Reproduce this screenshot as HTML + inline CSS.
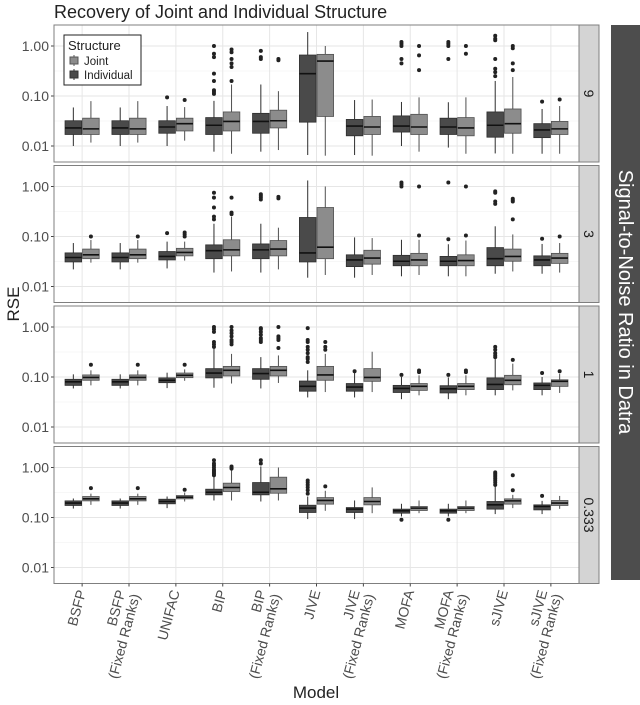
<!DOCTYPE html>
<html><head><meta charset="utf-8"><style>
html,body{margin:0;padding:0;background:#fff;}
svg{display:block;font-family:"Liberation Sans",sans-serif;}
</style></head><body>
<svg id="chart" width="640" height="705" viewBox="0 0 640 705" xmlns="http://www.w3.org/2000/svg">
<text x="54" y="18" font-size="18" fill="#222">Recovery of Joint and Individual Structure</text>
<rect x="611" y="25" width="29" height="555" fill="#4d4d4d"/>
<text transform="translate(619,302) rotate(90)" text-anchor="middle" font-size="20" fill="#fff">Signal-to-Noise Ratio in Datra</text>
<text transform="translate(19,304) rotate(-90)" text-anchor="middle" font-size="17" fill="#222">RSE</text>
<text x="316" y="698" text-anchor="middle" font-size="17" fill="#222">Model</text>
<g id="panels"></g>
<g>
<rect x="64" y="35" width="77" height="50" fill="#fff" stroke="#222" stroke-width="1"/>
<text x="68" y="50" font-size="13" fill="#222">Structure</text>
<g><line x1="74" y1="55" x2="74" y2="66" stroke="#555"/><rect x="70" y="57" width="8" height="7" fill="#8c8c8c" stroke="#555"/></g>
<text x="84" y="65" font-size="11.5" fill="#222">Joint</text>
<g><line x1="74" y1="69" x2="74" y2="80" stroke="#333"/><rect x="70" y="71" width="8" height="7" fill="#4a4a4a" stroke="#333"/></g>
<text x="84" y="79" font-size="11.5" fill="#222">Individual</text>
</g>
</svg>
<script>
const categories = ["BSFP","BSFP|(Fixed Ranks)","UNIFAC","BIP","BIP|(Fixed Ranks)","JIVE","JIVE|(Fixed Ranks)","MOFA","MOFA|(Fixed Ranks)","sJIVE","sJIVE|(Fixed Ranks)"];
const snrLevels = ["9","3","1","0.333"];
const yTicks = [0.01, 0.1, 1];
const yTickLabels = ["0.01","0.10","1.00"];
// [low whisker, q1, median, q3, high whisker]
const p9Dark = [[0.010,0.017,0.023,0.032,0.059],[0.010,0.017,0.023,0.032,0.059],[0.010,0.018,0.024,0.032,0.063],[0.0077,0.017,0.026,0.037,0.08],[0.0077,0.018,0.031,0.045,0.17],[0.0066,0.03,0.28,0.66,1.9],[0.0066,0.016,0.025,0.034,0.083],[0.010,0.019,0.025,0.040,0.076],[0.0093,0.017,0.024,0.036,0.075],[0.0071,0.015,0.026,0.048,0.2],[0.007,0.0147,0.021,0.028,0.055]];
const p9Light = [[0.0117,0.017,0.022,0.036,0.079],[0.0117,0.017,0.022,0.036,0.079],[0.0128,0.020,0.028,0.036,0.06],[0.007,0.020,0.031,0.048,0.17],[0.0083,0.023,0.032,0.052,0.125],[0.0064,0.039,0.5,0.68,1.0],[0.0064,0.017,0.024,0.039,0.085],[0.0077,0.017,0.024,0.043,0.094],[0.007,0.016,0.023,0.037,0.094],[0.007,0.018,0.028,0.055,0.24],[0.007,0.017,0.022,0.031,0.063]];
const p9DarkOut = [[],[],[0.094],[0.11,0.12,0.13,0.2,0.28,0.6,0.7,1.0],[0.55,0.6,0.8],[],[],[0.45,0.55,1.0,1.1,1.2],[0.55,1.0,1.1,1.2],[0.25,0.3,0.35,0.55,1.3,1.4,1.6],[0.077]];
const p9LightOut = [[],[],[0.083],[0.2,0.38,0.45,0.55,0.75,0.85],[0.52,0.55],[],[],[0.33,0.65,1.0],[0.7,1.0],[0.33,0.45,0.9,1.0],[0.085]];
const p3Dark = [[0.022,0.031,0.038,0.047,0.074],[0.022,0.031,0.038,0.047,0.074],[0.023,0.034,0.040,0.050,0.079],[0.019,0.036,0.052,0.068,0.18],[0.019,0.036,0.054,0.071,0.18],[0.015,0.031,0.047,0.24,1.32],[0.015,0.025,0.034,0.043,0.096],[0.016,0.026,0.032,0.042,0.086],[0.016,0.026,0.032,0.040,0.07],[0.018,0.026,0.036,0.06,0.16],[0.018,0.026,0.034,0.041,0.071]];
const p3Light = [[0.030,0.036,0.043,0.056,0.085],[0.030,0.036,0.043,0.056,0.085],[0.033,0.041,0.048,0.058,0.079],[0.020,0.041,0.054,0.086,0.25],[0.022,0.041,0.056,0.083,0.15],[0.017,0.036,0.061,0.38,1.0],[0.017,0.028,0.037,0.053,0.093],[0.017,0.026,0.034,0.046,0.086],[0.016,0.026,0.033,0.043,0.083],[0.020,0.032,0.040,0.056,0.11],[0.019,0.029,0.037,0.046,0.074]];
const p3DarkOut = [[],[],[0.117],[0.22,0.25,0.38,0.6,0.75],[0.55,0.6,0.65,0.7],[],[],[1.0,1.1,1.2],[0.088,1.2],[0.45,0.5,0.75,0.8],[0.09]];
const p3LightOut = [[0.1],[0.1],[0.1,0.11,0.12],[0.28,0.3,0.6],[0.58,0.62],[],[],[0.105,1.0],[0.105,1.0],[0.22,0.5,0.53,0.57],[0.1]];
const p1Dark = [[0.059,0.068,0.08,0.09,0.113],[0.059,0.068,0.08,0.09,0.113],[0.06,0.077,0.086,0.096,0.122],[0.061,0.096,0.12,0.147,0.37],[0.059,0.09,0.117,0.147,0.25],[0.039,0.052,0.065,0.083,0.136],[0.039,0.052,0.063,0.074,0.126],[0.036,0.049,0.059,0.068,0.1],[0.036,0.048,0.058,0.067,0.098],[0.043,0.056,0.071,0.096,0.23],[0.043,0.056,0.068,0.076,0.1]];
const p1Light = [[0.068,0.086,0.098,0.11,0.136],[0.068,0.086,0.098,0.11,0.136],[0.084,0.097,0.108,0.12,0.142],[0.074,0.105,0.136,0.163,0.29],[0.076,0.105,0.136,0.163,0.27],[0.05,0.086,0.11,0.163,0.29],[0.05,0.082,0.098,0.147,0.32],[0.043,0.054,0.065,0.074,0.108],[0.043,0.056,0.065,0.074,0.108],[0.054,0.07,0.086,0.108,0.185],[0.048,0.065,0.082,0.088,0.116]];
const p1DarkOut = [[],[],[],[0.4,0.45,0.5,0.8,0.9,1.0],[0.5,0.55,0.6,0.7,0.8,0.9,0.95],[0.2,0.23,0.25,0.3,0.35,0.4,0.5,0.55,0.95],[0.13],[0.11],[0.11],[0.25,0.27,0.3,0.35,0.4],[0.12]];
const p1LightOut = [[0.176],[0.176],[0.176],[0.45,0.5,0.55,0.65,0.75,0.85,1.0],[0.38,0.55,0.6,0.65,1.0],[0.35,0.4,0.5],[],[0.125,0.135],[0.125,0.135],[0.22],[0.13]];
const p033Dark = [[0.151,0.174,0.194,0.215,0.24],[0.151,0.174,0.194,0.215,0.24],[0.154,0.188,0.209,0.232,0.263],[0.219,0.284,0.32,0.368,0.66],[0.209,0.284,0.32,0.5,1.05],[0.093,0.126,0.154,0.176,0.263],[0.093,0.126,0.147,0.158,0.219],[0.105,0.122,0.136,0.147,0.188],[0.105,0.122,0.136,0.147,0.188],[0.117,0.147,0.179,0.209,0.417],[0.117,0.142,0.166,0.179,0.215]];
const p033Light = [[0.179,0.215,0.236,0.263,0.30],[0.179,0.215,0.236,0.263,0.30],[0.209,0.236,0.255,0.275,0.316],[0.219,0.331,0.398,0.486,0.9],[0.219,0.306,0.374,0.64,1.0],[0.136,0.185,0.219,0.25,0.342],[0.122,0.179,0.209,0.25,0.4],[0.122,0.138,0.154,0.166,0.219],[0.122,0.138,0.154,0.166,0.219],[0.154,0.185,0.215,0.236,0.284],[0.149,0.174,0.194,0.219,0.27]];
const p033DarkOut = [[],[],[],[0.7,0.75,0.8,0.85,0.9,1.0,1.1,1.2,1.4],[1.2,1.4],[0.3,0.35,0.4,0.45,0.5,0.55],[],[0.09],[0.09],[0.45,0.5,0.55,0.6,0.65,0.7,0.75,0.8],[0.27]];
const p033LightOut = [[0.386],[0.386],[0.358],[0.95,1.0,1.05],[],[0.42],[],[],[],[0.35,0.7],[]];

const panelData = [
  [p9Dark,p9Light,p9DarkOut,p9LightOut],
  [p3Dark,p3Light,p3DarkOut,p3LightOut],
  [p1Dark,p1Light,p1DarkOut,p1LightOut],
  [p033Dark,p033Light,p033DarkOut,p033LightOut]
];

const NS = "http://www.w3.org/2000/svg";
const PL = 54, PR = 579, PH = 137;
const panelTops = [25, 165.5, 306, 446.5];
const logMax = 0.42, logMin = -2.32;
const band = (PR - PL) / (categories.length + 0.2);
function xScale(i){ return PL + band * (0.6 + i); }
function yScale(v, top){ return top + (logMax - Math.log10(v)) / (logMax - logMin) * PH; }
function mk(tag, attrs, parent){
  const e = document.createElementNS(NS, tag);
  for (const k in attrs) e.setAttribute(k, attrs[k]);
  parent.appendChild(e);
  return e;
}
const root = document.getElementById("panels");
const boxW = band * 0.75 / 2;

panelData.forEach((pd, p) => {
  const top = panelTops[p];
  const g = mk("g", {}, root);
  
  
  const bg = mk("rect", {x:PL, y:top, width:PR-PL, height:PH, fill:"#fff"}, g);
  
  
  for (let d = -3; d <= 1; d++) {
    const v = Math.pow(10, d + 0.5);
    const y = yScale(v, top);
    if (y > top && y < top + PH) {
      const l = mk("line", {x1:PL, x2:PR, y1:y, y2:y, stroke:"#f0f0f0", "stroke-width":0.6}, g);
      
      
    }
  }
  yTicks.forEach((t, k) => {
    const y = yScale(t, top);
    const l = mk("line", {x1:PL, x2:PR, y1:y, y2:y, stroke:"#e6e6e6", "stroke-width":1}, g);
    
    
    const tk = mk("line", {x1:PL-3, x2:PL, y1:y, y2:y, stroke:"#444"}, g);
    
    
    const tx = mk("text", {x:PL-5, y:y+5, "text-anchor":"end", "font-size":14, fill:"#4d4d4d"}, g);
    tx.textContent = yTickLabels[k];
    
    
  });
  categories.forEach((c, i) => {
    const x = xScale(i);
    const l = mk("line", {x1:x, x2:x, y1:top, y2:top+PH, stroke:"#e6e6e6", "stroke-width":1}, g);
    
    
  });
  const series = [
    {stats:pd[0], outs:pd[2], off:-boxW/2, fill:"#4a4a4a", stroke:"#2e2e2e", name:"individual"},
    {stats:pd[1], outs:pd[3], off:boxW/2, fill:"#8c8c8c", stroke:"#505050", name:"joint"}
  ];
  series.forEach(s => {
    s.stats.forEach((st, i) => {
      const cx = xScale(i) + s.off;
      const bg2 = mk("g", {}, g);
      
      
      const yLo = yScale(st[0], top), yQ1 = yScale(st[1], top), yMed = yScale(st[2], top), yQ3 = yScale(st[3], top), yHi = yScale(st[4], top);
      mk("line", {x1:cx, x2:cx, y1:yHi, y2:yLo, stroke:s.stroke, "stroke-width":1}, bg2);
      mk("rect", {x:cx-boxW/2+0.5, y:yQ3, width:boxW-1, height:Math.max(1, yQ1-yQ3), fill:s.fill, stroke:s.stroke, "stroke-width":0.8}, bg2);
      mk("line", {x1:cx-boxW/2+0.5, x2:cx+boxW/2-0.5, y1:yMed, y2:yMed, stroke:"#111", "stroke-width":1.6}, bg2);
      s.outs[i].forEach(v => {
        const pt = mk("circle", {cx:cx, cy:yScale(v, top), r:2, fill:"#222"}, bg2);
        
        
      });
    });
  });
  const border = mk("rect", {x:PL, y:top, width:PR-PL, height:PH, fill:"none", stroke:"#7f7f7f", "stroke-width":1}, g);
  
  
  const strip = mk("rect", {x:PR, y:top, width:20, height:PH, fill:"#d4d4d4", stroke:"#7f7f7f", "stroke-width":1}, g);
  
  
  const st = mk("text", {transform:"translate(" + (PR+5) + "," + (top+PH/2) + ") rotate(90)", "text-anchor":"middle", "font-size":14, fill:"#1a1a1a"}, g);
  st.textContent = snrLevels[p];
  
  
});

const bottom = panelTops[3] + PH;
categories.forEach((c, i) => {
  const x = xScale(i);
  const tk = mk("line", {x1:x, x2:x, y1:bottom, y2:bottom+3, stroke:"#444"}, root);
  
  
  const lines = c.split('|');
  const shift = (lines.length - 1) * 7.5;
  const t = mk("text", {transform:"translate(" + (x + 4 - shift) + "," + (bottom + 8) + ") rotate(-75)", "text-anchor":"end", "font-size":14, fill:"#4d4d4d"}, root);
  
  
  lines.forEach((ln, k) => {
    const ts = mk("tspan", {x:0, dy: k === 0 ? 0 : 15}, t);
    ts.textContent = ln;
  });
});
</script>
</body></html>
